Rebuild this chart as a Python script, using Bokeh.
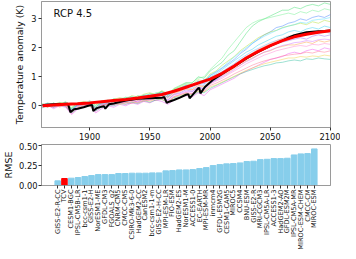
from bokeh.plotting import figure
from bokeh.layouts import column
from bokeh.models import Range1d, FactorRange, FixedTicker, Label, ColumnDataSource, NumeralTickFormatter
from bokeh.embed import file_html
from bokeh.resources import INLINE
import math

# ---------------- data ----------------
run_years = list(range(1860, 2101, 5))

runs = [
    [0.05, -0.05, 0.10, 0.00, 0.12, -0.10, 0.05,
     0.10, 0.02, -0.05, 0.15, 0.10, 0.25, 0.18,
     0.30, 0.22, 0.35, 0.30, 0.42, 0.38, 0.50,
     0.35, 0.60, 0.70, 0.80, 0.78, 1.00, 0.95,
     1.20, 1.35, 1.50, 1.75, 1.90, 2.20, 2.50,
     2.75, 2.90, 3.00, 3.10, 3.20, 3.30, 3.30,
     3.40, 3.35, 3.45, 3.50, 3.45, 3.55, 3.50],
    [0.00, 0.08, -0.05, 0.10, 0.05, -0.20, 0.00,
     0.12, 0.05, -0.12, 0.08, 0.02, 0.15, 0.20,
     0.12, 0.28, 0.20, 0.35, 0.28, 0.40, 0.45,
     0.30, 0.55, 0.60, 0.70, 0.65, 0.85, 0.75,
     1.05, 1.15, 1.30, 1.45, 1.60, 1.80, 1.95,
     2.15, 2.30, 2.45, 2.55, 2.70, 2.75, 2.85,
     2.90, 3.00, 2.95, 3.05, 3.10, 3.05, 3.15],
    [-0.05, 0.02, -0.10, 0.00, -0.05, -0.30, -0.12,
     -0.05, 0.00, -0.25, -0.10, 0.00, -0.05, 0.05,
     0.00, 0.10, 0.05, 0.15, 0.10, 0.20, 0.15,
     0.05, 0.20, 0.30, 0.35, 0.30, 0.45, 0.35,
     0.55, 0.65, 0.75, 0.85, 0.95, 1.10, 1.20,
     1.30, 1.40, 1.50, 1.60, 1.65, 1.70, 1.80,
     1.85, 1.80, 1.90, 1.95, 1.90, 2.00, 1.95],
    [0.02, 0.05, 0.00, 0.08, 0.02, -0.15, 0.05,
     0.08, 0.12, -0.05, 0.10, 0.15, 0.12, 0.22,
     0.18, 0.25, 0.30, 0.22, 0.35, 0.30, 0.38,
     0.30, 0.45, 0.50, 0.60, 0.55, 0.70, 0.65,
     0.85, 0.95, 1.05, 1.15, 1.30, 1.40, 1.55,
     1.65, 1.75, 1.85, 1.90, 2.00, 2.05, 2.10,
     2.10, 2.15, 2.20, 2.15, 2.25, 2.20, 2.25],
    [-0.02, 0.05, 0.08, 0.00, 0.10, -0.12, 0.02,
     0.05, 0.15, -0.08, 0.05, 0.12, 0.20, 0.15,
     0.25, 0.18, 0.30, 0.35, 0.28, 0.42, 0.40,
     0.38, 0.50, 0.62, 0.70, 0.68, 0.80, 0.90,
     1.00, 1.10, 1.25, 1.40, 1.55, 1.70, 1.85,
     1.95, 2.10, 2.20, 2.30, 2.40, 2.45, 2.55,
     2.60, 2.55, 2.65, 2.70, 2.65, 2.75, 2.70],
    [0.05, -0.02, 0.05, 0.10, 0.00, -0.22, -0.05,
     0.05, 0.08, -0.15, 0.00, 0.10, 0.05, 0.18,
     0.15, 0.20, 0.12, 0.28, 0.25, 0.32, 0.30,
     0.20, 0.40, 0.45, 0.55, 0.50, 0.65, 0.60,
     0.80, 0.90, 1.05, 1.20, 1.35, 1.50, 1.65,
     1.75, 1.85, 1.95, 2.05, 2.15, 2.20, 2.25,
     2.30, 2.35, 2.30, 2.40, 2.45, 2.40, 2.45],
    [0.00, -0.05, 0.02, -0.03, 0.05, -0.18, -0.08,
     0.00, 0.03, -0.10, 0.02, 0.08, 0.05, 0.10,
     0.12, 0.08, 0.18, 0.15, 0.22, 0.18, 0.28,
     0.15, 0.32, 0.38, 0.45, 0.42, 0.55, 0.50,
     0.70, 0.78, 0.88, 0.98, 1.10, 1.20, 1.30,
     1.40, 1.48, 1.55, 1.60, 1.65, 1.72, 1.75,
     1.78, 1.80, 1.85, 1.82, 1.88, 1.85, 1.90],
    [0.08, 0.00, 0.05, 0.12, 0.08, -0.08, 0.10,
     0.15, 0.10, 0.02, 0.18, 0.12, 0.22, 0.28,
     0.22, 0.35, 0.30, 0.40, 0.45, 0.38, 0.52,
     0.42, 0.58, 0.65, 0.75, 0.72, 0.90, 0.85,
     1.10, 1.20, 1.40, 1.55, 1.70, 1.90, 2.05,
     2.20, 2.35, 2.45, 2.55, 2.60, 2.70, 2.75,
     2.80, 2.85, 2.80, 2.90, 2.85, 2.95, 2.90],
    [-0.08, 0.00, -0.05, 0.02, -0.02, -0.25, -0.10,
     -0.02, 0.00, -0.18, -0.05, 0.02, 0.00, 0.08,
     0.05, 0.12, 0.08, 0.18, 0.12, 0.20, 0.22,
     0.10, 0.28, 0.32, 0.40, 0.36, 0.48, 0.45,
     0.60, 0.70, 0.80, 0.90, 1.00, 1.10, 1.18,
     1.25, 1.32, 1.38, 1.42, 1.48, 1.50, 1.55,
     1.58, 1.55, 1.62, 1.60, 1.65, 1.62, 1.60],
    [0.03, 0.06, -0.02, 0.05, 0.10, -0.15, 0.03,
     0.10, 0.06, -0.10, 0.12, 0.08, 0.18, 0.15,
     0.20, 0.26, 0.22, 0.32, 0.30, 0.36, 0.42,
     0.28, 0.48, 0.55, 0.62, 0.60, 0.75, 0.70,
     0.95, 1.05, 1.18, 1.32, 1.45, 1.62, 1.75,
     1.88, 1.98, 2.08, 2.18, 2.25, 2.32, 2.40,
     2.42, 2.48, 2.45, 2.52, 2.50, 2.55, 2.50],
    [0.00, 0.10, 0.05, 0.02, 0.15, -0.05, 0.08,
     0.05, 0.18, 0.02, 0.12, 0.20, 0.15, 0.25,
     0.28, 0.32, 0.25, 0.38, 0.35, 0.45, 0.48,
     0.40, 0.55, 0.68, 0.78, 0.80, 0.95, 1.00,
     1.25, 1.45, 1.65, 1.95, 2.20, 2.45, 2.70,
     2.85, 2.95, 3.00, 3.05, 3.10, 3.15, 3.20,
     3.15, 3.25, 3.20, 3.30, 3.25, 3.35, 3.30],
    [-0.03, 0.02, 0.06, -0.05, 0.03, -0.18, -0.02,
     0.06, 0.00, -0.12, 0.06, 0.05, 0.10, 0.12,
     0.15, 0.20, 0.18, 0.25, 0.30, 0.28, 0.35,
     0.25, 0.42, 0.50, 0.58, 0.55, 0.70, 0.68,
     0.88, 0.98, 1.10, 1.25, 1.40, 1.55, 1.70,
     1.82, 1.95, 2.05, 2.15, 2.25, 2.32, 2.40,
     2.45, 2.50, 2.48, 2.55, 2.58, 2.55, 2.60],
    [0.02, -0.03, 0.04, 0.06, -0.02, -0.20, 0.00,
     0.02, 0.08, -0.14, 0.04, 0.06, 0.08, 0.12,
     0.10, 0.18, 0.15, 0.22, 0.20, 0.30, 0.28,
     0.18, 0.38, 0.42, 0.50, 0.48, 0.62, 0.58,
     0.78, 0.88, 1.00, 1.12, 1.25, 1.40, 1.52,
     1.62, 1.75, 1.85, 1.92, 2.00, 2.08, 2.12,
     2.18, 2.20, 2.25, 2.22, 2.28, 2.30, 2.28],
    [0.04, -0.04, 0.00, 0.03, 0.00, -0.22, -0.06,
     0.03, -0.02, -0.12, 0.00, 0.05, 0.08, 0.05,
     0.10, 0.14, 0.10, 0.20, 0.15, 0.25, 0.22,
     0.12, 0.30, 0.35, 0.42, 0.38, 0.50, 0.48,
     0.65, 0.72, 0.82, 0.92, 1.02, 1.12, 1.22,
     1.30, 1.38, 1.45, 1.50, 1.55, 1.60, 1.65,
     1.65, 1.70, 1.68, 1.72, 1.70, 1.75, 1.72],
    [0.06, 0.02, 0.08, 0.04, 0.06, -0.12, 0.04,
     0.08, 0.12, -0.02, 0.10, 0.18, 0.14, 0.22,
     0.25, 0.30, 0.28, 0.36, 0.40, 0.38, 0.48,
     0.36, 0.52, 0.60, 0.72, 0.70, 0.85, 0.82,
     1.05, 1.18, 1.32, 1.50, 1.68, 1.85, 2.00,
     2.15, 2.28, 2.40, 2.50, 2.60, 2.68, 2.75,
     2.80, 2.88, 2.85, 2.95, 2.98, 3.00, 3.05],
    [-0.04, 0.00, -0.06, 0.02, 0.00, -0.28, -0.08,
     0.00, 0.04, -0.20, -0.02, 0.04, 0.02, 0.10,
     0.05, 0.15, 0.10, 0.20, 0.18, 0.26, 0.25,
     0.10, 0.32, 0.38, 0.46, 0.42, 0.58, 0.52,
     0.75, 0.85, 0.95, 1.08, 1.20, 1.32, 1.45,
     1.55, 1.65, 1.75, 1.82, 1.90, 1.95, 2.00,
     2.05, 2.08, 2.05, 2.12, 2.10, 2.15, 2.12],
]
run_colors = ["#33dd66", "#3377ff", "#ee44ee", "#ff9933", "#22ccee", "#9955ee",
              "#ff6688", "#aadd22", "#22bb99", "#66aaff", "#66ee88", "#ffaa88",
              "#cc66ff", "#eecc33", "#44ddff", "#ff77cc"]

mean_years = [1861, 1870, 1875, 1882, 1884, 1887, 1890, 1895, 1900, 1902, 1903, 1906,
              1910, 1912, 1913, 1916, 1920, 1925, 1930, 1940, 1950, 1960, 1962, 1964,
              1966, 1970, 1975, 1980, 1982, 1983, 1985, 1990, 1991, 1992, 1994, 1996,
              2002, 2010, 2020, 2030, 2040, 2050, 2060, 2065, 2070, 2080, 2090, 2095, 2100]
mean_vals = [0.03, 0.05, 0.06, 0.07, -0.22, -0.12, -0.10, -0.05, 0.02, 0.03, -0.18, -0.08,
             -0.03, -0.02, -0.10, 0.05, 0.08, 0.13, 0.18, 0.24, 0.26, 0.28, 0.30, 0.10,
             0.14, 0.20, 0.28, 0.38, 0.40, 0.26, 0.35, 0.60, 0.62, 0.43, 0.55, 0.66,
             0.88, 1.10, 1.36, 1.63, 1.86, 2.07, 2.25, 2.35, 2.44, 2.54, 2.57, 2.58, 2.60]

tcv_years = [1861, 1870, 1880, 1890, 1900, 1910, 1920, 1930, 1940, 1950, 1960, 1970, 1980,
             1990, 2000, 2010, 2020, 2030, 2040, 2050, 2060, 2070, 2080, 2090, 2100]
tcv_vals = [0.00, 0.03, 0.05, 0.07, 0.10, 0.14, 0.18, 0.22, 0.27, 0.33, 0.39, 0.50, 0.64,
            0.78, 0.92, 1.12, 1.37, 1.65, 1.88, 2.08, 2.25, 2.38, 2.47, 2.54, 2.59]

models = ["GISS-E2-R-CC", "TCV", "CESM1-BGC", "IPSL-CM5B-LR", "bcc-csm1-1", "GISS-E2-H",
          "NorESM1-ME", "GFDL-CM3", "FGOALS_g2", "CNRM-CM5", "CMCC-CMS", "CSIRO-Mk3-6-0",
          "HadGEM2-CC", "CanESM2", "bcc-csm1-1-m", "GISS-E2-H-CC", "MPI-ESM-LR", "FIO-ESM",
          "HadGEM2-ES", "NorESM1-M", "ACCESS1-0", "EC-EARTH", "MPI-ESM-MR", "inmcm4",
          "GFDL-ESM2G", "CESM1-CAM5", "MIROC5", "CCSM4", "BNU-ESM", "GISS-E2-R",
          "MRI-CGCM3", "IPSL-CM5A-LR", "ACCESS1-3", "HadGEM2-AO", "GFDL-ESM2M",
          "IPSL-CM5A-MR", "MIROC-ESM-CHEM", "CMCC-CM", "MIROC-ESM"]
rmse = [0.058, 0.087, 0.091, 0.099, 0.112, 0.124, 0.136, 0.136, 0.136, 0.149, 0.149,
        0.153, 0.153, 0.153, 0.157, 0.157, 0.182, 0.186, 0.194, 0.194, 0.198, 0.211,
        0.223, 0.248, 0.260, 0.269, 0.273, 0.281, 0.298, 0.302, 0.322, 0.326, 0.335,
        0.335, 0.339, 0.380, 0.393, 0.397, 0.455]
bar_colors = ["#ff0000" if m == "TCV" else "#87ceeb" for m in models]

FONT = "DejaVu Sans"
SPINE = "#9a9a9a"


def style(p):
    p.grid.visible = False
    p.outline_line_color = SPINE
    p.outline_line_width = 1
    for ax in p.axis:
        ax.axis_line_color = SPINE
        ax.major_tick_line_color = "#333333"
        ax.minor_tick_line_color = None
        ax.major_tick_in = 0
        ax.major_tick_out = 3
        ax.major_label_text_font = FONT
        ax.major_label_text_color = "#111111"
        ax.axis_label_text_font = FONT
        ax.axis_label_text_font_style = "normal"
        ax.axis_label_text_color = "#111111"


# ---------------- top panel ----------------
p1 = figure(width=340, height=142, x_range=Range1d(1860, 2100), y_range=Range1d(-0.75, 3.6),
            output_backend="svg", toolbar_location=None,
            min_border_top=1, min_border_left=35, min_border_right=10, min_border_bottom=0)
style(p1)
p1.xaxis.ticker = FixedTicker(ticks=[1900, 1950, 2000, 2050, 2100])
p1.yaxis.ticker = FixedTicker(ticks=[0, 1, 2, 3])
p1.xaxis.major_label_text_font_size = "8.3px"
p1.yaxis.major_label_text_font_size = "8.3px"
p1.xaxis.major_label_standoff = 2
p1.yaxis.major_label_standoff = 2
p1.yaxis.axis_label = "Temperature anomaly (K)"
p1.yaxis.axis_label_text_font_size = "9.4px"
p1.yaxis.axis_label_standoff = 3

p1.multi_line(xs=[run_years] * len(runs), ys=runs, line_color=run_colors,
              line_alpha=0.55, line_width=0.8)
p1.line(mean_years, mean_vals, line_color="black", line_width=2)
p1.line(tcv_years, tcv_vals, line_color="#ff0000", line_width=3)
p1.add_layout(Label(x=1870, y=3.2, text="RCP 4.5", text_font=FONT, text_font_size="10px",
                    text_baseline="middle", text_color="#111111"))

# ---------------- bottom panel ----------------
src = ColumnDataSource(dict(model=models, rmse=rmse, color=bar_colors))
p2 = figure(width=340, height=110,
            x_range=FactorRange(factors=models, range_padding=1.9, range_padding_units="absolute"),
            y_range=Range1d(0, 0.51), output_backend="svg", toolbar_location=None,
            min_border_top=2, min_border_left=35, min_border_right=10, min_border_bottom=0)
style(p2)
p2.vbar(x="model", top="rmse", width=0.82, color="color", source=src)
p2.yaxis.ticker = FixedTicker(ticks=[0, 0.25, 0.5])
p2.yaxis.formatter = NumeralTickFormatter(format="0.00")
p2.yaxis.major_label_text_font_size = "8.3px"
p2.yaxis.major_label_standoff = 1
p2.yaxis.axis_label = "RMSE"
p2.yaxis.axis_label_text_font_size = "9.5px"
p2.yaxis.axis_label_standoff = 2
p2.xaxis.major_label_orientation = math.pi / 2
p2.xaxis.major_label_text_font_size = "6.6px"
p2.xaxis.major_label_standoff = 1

layout = column(p1, p2, spacing=0)
open("out.html", "w").write(file_html(layout, INLINE))
